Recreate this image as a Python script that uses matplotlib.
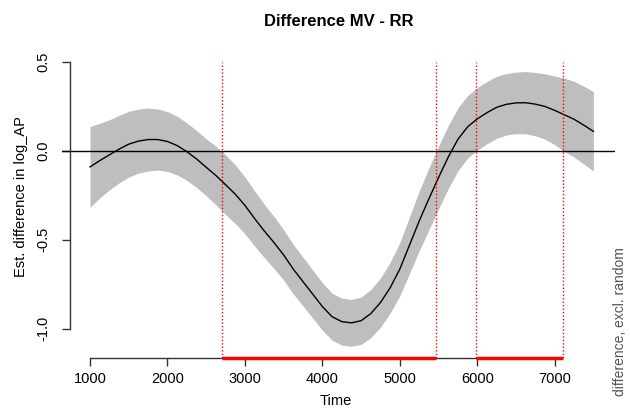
import numpy as np
import matplotlib.pyplot as plt

plt.rcParams['font.family'] = ['Liberation Sans', 'DejaVu Sans']

# estimated difference curve (every 125 time units)
time = [1000, 1125, 1250, 1375, 1500, 1625, 1750, 1875, 2000, 2125, 2250,
        2375, 2500, 2625, 2750, 2875, 3000, 3125, 3250, 3375, 3500, 3625,
        3750, 3875, 4000, 4125, 4250, 4375, 4500, 4625, 4750, 4875, 5000,
        5125, 5250, 5375, 5500, 5625, 5750, 5875, 6000, 6125, 6250, 6375,
        6500, 6625, 6750, 6875, 7000, 7125, 7250, 7375, 7500]
est = [-0.090, -0.055, -0.022, 0.010, 0.038, 0.055, 0.064, 0.064, 0.053,
       0.030, -0.004, -0.045, -0.092, -0.138, -0.190, -0.243, -0.306,
       -0.380, -0.450, -0.515, -0.585, -0.665, -0.735, -0.805, -0.875,
       -0.932, -0.960, -0.967, -0.955, -0.915, -0.853, -0.770, -0.665,
       -0.530, -0.395, -0.270, -0.150, -0.035, 0.065, 0.135, 0.180, 0.215,
       0.245, 0.262, 0.270, 0.271, 0.263, 0.250, 0.228, 0.203, 0.178,
       0.145, 0.110]
ci = [0.227, 0.210, 0.197, 0.190, 0.185, 0.180, 0.177, 0.172, 0.168, 0.165,
      0.162, 0.160, 0.160, 0.165, 0.168, 0.165, 0.160, 0.155, 0.150, 0.146,
      0.142, 0.139, 0.137, 0.135, 0.133, 0.132, 0.132, 0.132, 0.133, 0.135,
      0.138, 0.143, 0.150, 0.159, 0.168, 0.174, 0.177, 0.177, 0.177, 0.176,
      0.176, 0.175, 0.174, 0.173, 0.173, 0.175, 0.178, 0.184, 0.193, 0.206,
      0.213, 0.219, 0.223]

# significant regions
sig_start = [2704, 5988]
sig_end = [5467, 7107]

xticks = [1000, 2000, 3000, 4000, 5000, 6000, 7000]
yticks = [-1.0, -0.5, 0.0, 0.5]

time = np.array(time)
est = np.array(est)
ci = np.array(ci)

W, H = 630, 412
fig = plt.figure(figsize=(W / 100, H / 100), dpi=100)
ax = fig.add_axes([62 / W, (H - 358) / H, (615 - 62) / W, (358 - 62) / H])

ax.fill_between(time, est - ci, est + ci, color='#bebebe', linewidth=0)
ax.plot(time, est, color='black', linewidth=1)
ax.axhline(0, color='black', linewidth=1)

for x in sig_start + sig_end:
    ax.axvline(x, color='red', linestyle=(0, (1, 1.5)), linewidth=1)
for a, b in zip(sig_start, sig_end):
    ax.plot([a, b], [-1.1646, -1.1646], color='red', linewidth=2.5,
            solid_capstyle='butt', clip_on=False, zorder=5)

ax.set_xlim(638.5, 7778.6)
ax.set_ylim(-1.1646, 0.4927)

for s in ['top', 'right']:
    ax.spines[s].set_visible(False)
ax.spines['left'].set_position(('data', 742))
ax.spines['left'].set_bounds(-1.0, 0.5)
ax.spines['bottom'].set_bounds(1000, 7000)
for s in ['left', 'bottom']:
    ax.spines[s].set_color('#333333')
    ax.spines[s].set_linewidth(1)

ax.set_xticks(xticks)
ax.set_xticklabels([str(t) for t in xticks])
ax.set_yticks(yticks)
ax.set_yticklabels(['%.1f' % t for t in yticks], rotation=90, va='center')
ax.tick_params(axis='both', direction='out', length=5.8, width=1,
               color='#333333', labelsize=10.5)
ax.tick_params(axis='x', pad=4)
ax.tick_params(axis='y', pad=8)

fig.text(338.5 / W, 1 - 21 / H, 'Difference MV - RR', ha='center',
         va='center', fontsize=12, fontweight='bold')
fig.text(336 / W, 1 - 401 / H, 'Time', ha='center', va='center',
         fontsize=10.5)
fig.text(21 / W, 1 - 197 / H, 'Est. difference in log_AP', ha='center',
         va='center', rotation=90, fontsize=10.5)
fig.text(620 / W, 1 - 322 / H, 'difference, excl. random', ha='center',
         va='center', rotation=90, fontsize=10, color='#555555')

fig.savefig('out.png', dpi=100)
